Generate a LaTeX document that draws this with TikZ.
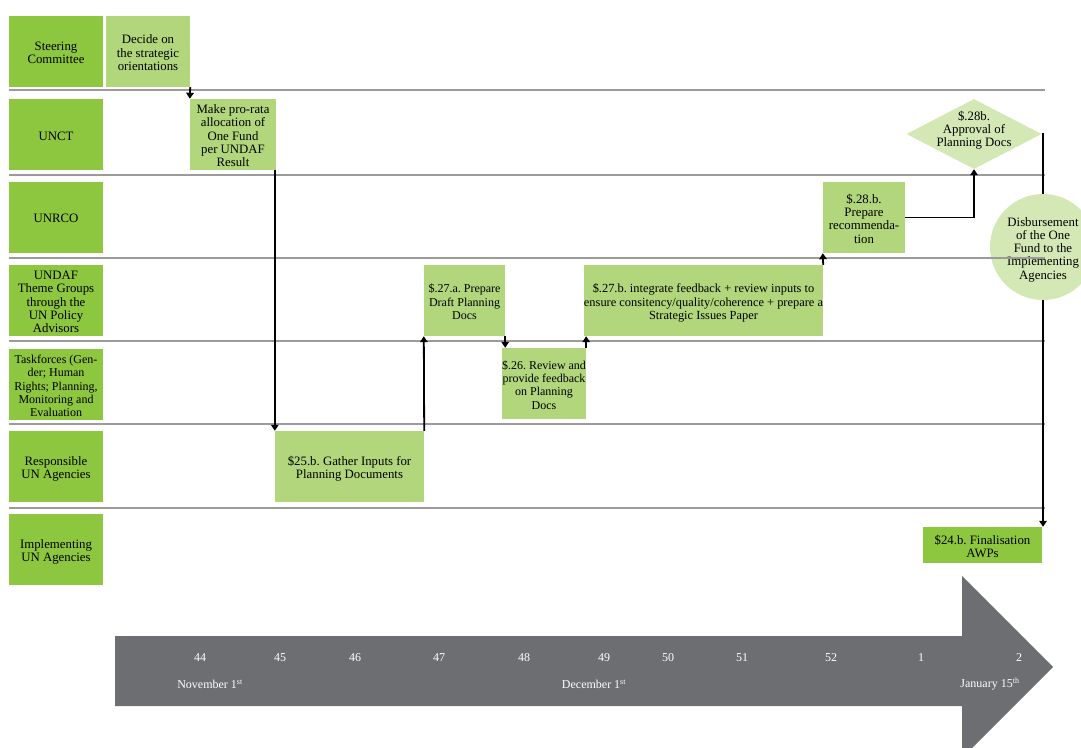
\documentclass[tikz,border=0pt]{standalone}
\usepackage{fontspec}
\setmainfont{Liberation Serif}
\usetikzlibrary{shapes.geometric,arrows.meta}
\definecolor{lanegreen}{HTML}{8DC63F}
\definecolor{procgreen}{HTML}{B1D67B}
\definecolor{palegreen}{HTML}{D3E8B4}
\definecolor{sepgray}{HTML}{9B9B9B}
\definecolor{tlgray}{HTML}{6D6E71}
\newcommand\boxfont{\fontsize{12.8}{13.3}\selectfont}
\newcommand\tightfont{\fontsize{12}{13.3}\selectfont}
\newcommand\tlfont{\fontsize{12}{13}\selectfont}
\newcommand\ctext[1]{\makebox[0pt]{\raisebox{-3pt}[\height][\depth]{\begin{tabular}{@{}c@{}}#1\end{tabular}}}}
\frenchspacing
\begin{document}
\begin{tikzpicture}[x=1pt,y=-1pt,
  lanebox/.style={fill=lanegreen, minimum width=94pt, minimum height=71pt, inner sep=0pt, font=\boxfont},
  procbox/.style={fill=procgreen, minimum height=71pt, inner sep=0pt, font=\boxfont},
  sepline/.style={draw=sepgray, line width=2pt},
  conn/.style={line width=1.8pt, -{Triangle[width=7.5pt,length=6pt]}},
  plainconn/.style={line width=1.8pt},
  wk/.style={text=white, font=\tlfont, inner sep=0pt}]
\useasboundingbox (0,0) rectangle (1081,747);
\clip (0,0) rectangle (1081,747);

% lane labels
\node[lanebox] (sc) at (56,51.5) {\ctext{Steering\\Committee}};
\node[lanebox] (unct) at (56,134.5) {\ctext{UNCT}};
\node[lanebox] (unrco) at (56,217) {\ctext{UNRCO}};
\node[lanebox] (undaf) at (56,300.5) {\ctext{UNDAF\\Theme Groups\\through the\\UN Policy\\Advisors}};
\node[lanebox, font=\tightfont] (tf) at (56,384.5) {\ctext{Taskforces (Gen-\\der; Human\\Rights; Planning,\\Monitoring and\\Evaluation}};
\node[lanebox] (resp) at (56,466.5) {\ctext{Responsible\\UN Agencies}};
\node[lanebox] (impl) at (56,549.5) {\ctext{Implementing\\UN Agencies}};

% process boxes
\node[procbox, minimum width=84pt] (dec) at (148,51.5) {\ctext{Decide on\\the strategic\\orientations}};
\node[procbox, minimum width=86pt] (mpr) at (233,134.5) {\ctext{Make pro-rata\\allocation of\\One Fund\\per UNDAF\\Result}};
\node[procbox, minimum width=149pt] (g25) at (349.5,466.5) {\ctext{\$25.b. Gather Inputs for\\Planning Documents}};
\node[procbox, minimum width=81pt, font=\tightfont] (p27a) at (464.5,300.5) {\ctext{\$.27.a. Prepare\\Draft Planning\\Docs}};
\node[procbox, minimum width=84pt, font=\tightfont] (r26) at (544,383.5) {\ctext{\$.26. Review and\\provide feedback\\on Planning\\Docs}};
\node[procbox, minimum width=239pt, font=\fontsize{12.4}{13.3}\selectfont] (i27b) at (703.5,300.5) {\ctext{\$.27.b. integrate feedback + review inputs to\\ensure consitency/quality/coherence + prepare a\\Strategic Issues Paper}};
\node[procbox, minimum width=82pt] (p28b) at (864,217.5) {\ctext{\$.28.b.\\Prepare\\recommenda-\\tion}};
\node[diamond, fill=palegreen, minimum width=135pt, minimum height=70pt, inner sep=0pt,
  label={[font=\boxfont, inner sep=0pt, yshift=6pt]center:{\ctext{\$.28b.\\Approval of\\Planning Docs}}}] (apr) at (974,134) {};
\node[circle, fill=palegreen, minimum size=106pt, inner sep=0pt, font=\boxfont] (disb) at (1043,247) {\ctext{Disbursement\\of the One\\Fund to the\\Implementing\\Agencies}};
\node[fill=lanegreen, minimum width=119pt, minimum height=36pt, inner sep=0pt, font=\boxfont] (f24) at (982.5,545) {\ctext{\$24.b. Finalisation\\AWPs}};

% lane separators
\foreach \yy in {90,174.5,258,341,424,508} \draw[sepline] (9,\yy) -- (1045,\yy);

% connectors
\draw[conn] (dec.south east) -- (mpr.north west);
\draw[conn] (mpr.south east -| g25.north west) -- (g25.north west);
\draw[conn] (g25.north east) -- (p27a.south west);
\draw[conn] (p27a.south east) -- (p27a.south east |- r26.north);
\draw[conn] (r26.north east) -- (r26.north east |- i27b.south);
\draw[conn] (i27b.north east) -- (p28b.south west);
\draw[conn] (p28b.east) -| (apr.south);
\draw[plainconn] (apr.east) -| (disb.north);
\draw[conn] (disb.south) -- (disb.south |- f24.north);

% timeline arrow
\fill[tlgray] (115,636) -- (962,636) -- (962,576) -- (1053,667) -- (962,758) -- (962,706) -- (115,706) -- cycle;
\node[wk] (w44) at (200,658) {44};
\node[wk] (w45) at (280,658) {45};
\node[wk] (w46) at (355,658) {46};
\node[wk] (w47) at (439,658) {47};
\node[wk] (w48) at (524,658) {48};
\node[wk] (w49) at (604,658) {49};
\node[wk] (w50) at (668,658) {50};
\node[wk] (w51) at (742,658) {51};
\node[wk] (w52) at (831,658) {52};
\node[wk] (w1) at (921,658) {1};
\node[wk] (w2) at (1019,658) {2};
\node[wk] (nov) at (210,684) {November 1\textsuperscript{st}};
\node[wk] (decm) at (594,684) {December 1\textsuperscript{st}};
\node[wk] (jan) at (990,684) {January 15\textsuperscript{th}};
\end{tikzpicture}
\end{document}
